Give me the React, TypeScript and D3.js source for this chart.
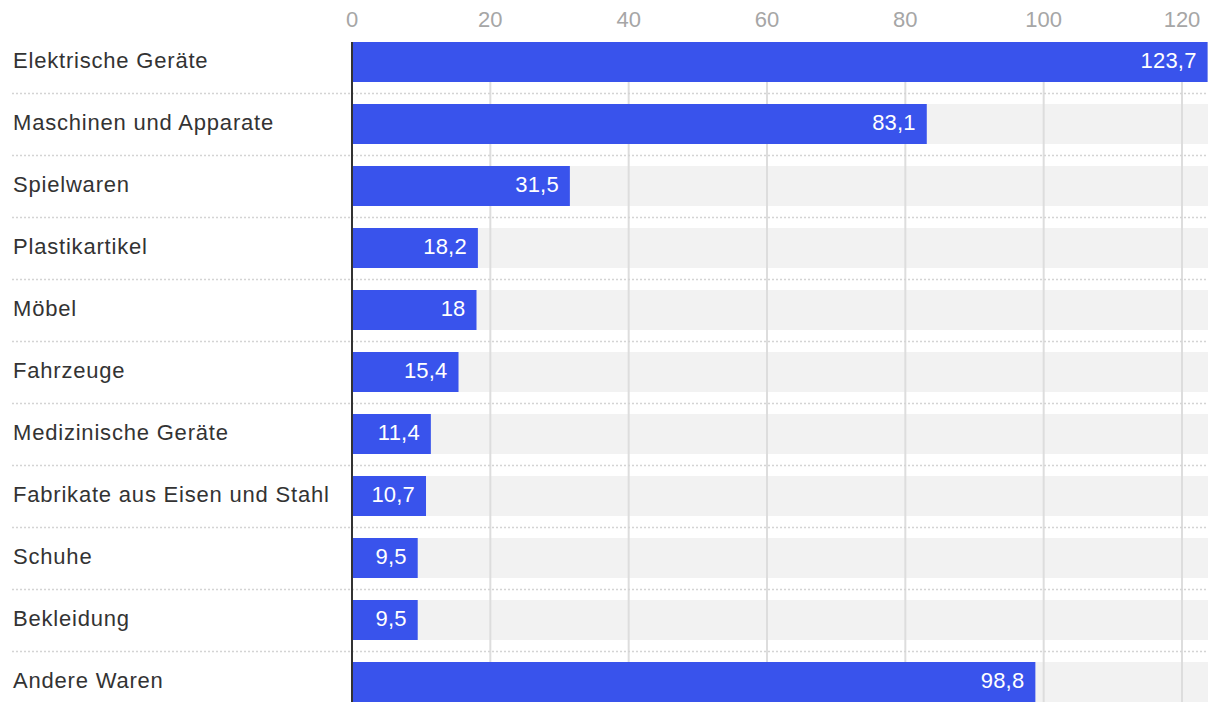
import React, { useRef, useEffect } from 'react';
import * as d3 from 'd3';

const categories = [
  'Elektrische Geräte',
  'Maschinen und Apparate',
  'Spielwaren',
  'Plastikartikel',
  'Möbel',
  'Fahrzeuge',
  'Medizinische Geräte',
  'Fabrikate aus Eisen und Stahl',
  'Schuhe',
  'Bekleidung',
  'Andere Waren',
];
const values = [123.7, 83.1, 31.5, 18.2, 18, 15.4, 11.4, 10.7, 9.5, 9.5, 98.8];
const ticks = [0, 20, 40, 60, 80, 100, 120];

const App = () => {
  const svgRef = useRef<SVGSVGElement>(null);

  useEffect(() => {
    if (!svgRef.current) return;
    const width = 1220;
    const height = 712;
    const font = '"Liberation Sans", Arial, Helvetica, sans-serif';
    const left = 352;
    const right = 1208;

    const svg = d3.select(svgRef.current)
      .attr('width', width)
      .attr('height', height)
      .attr('viewBox', `0 0 ${width} ${height}`);
    svg.selectAll('*').remove();

    const x = d3.scaleLinear().domain([0, 120]).range([left, 1182]);
    const y = d3.scaleBand<string>()
      .domain(categories)
      .range([31, 31 + 62 * categories.length])
      .paddingInner(22 / 62)
      .paddingOuter(11 / 62);
    const bw = y.bandwidth();
    const top = y(categories[0])!;
    const bottom = y(categories[categories.length - 1])! + bw;

    // background bands
    svg.append('g').selectAll('rect')
      .data(categories)
      .join('rect')
      .attr('x', left)
      .attr('y', d => y(d)!)
      .attr('width', right - left)
      .attr('height', bw)
      .attr('fill', '#f2f2f2');

    // grid
    svg.append('g').selectAll('line')
      .data(ticks.slice(1))
      .join('line')
      .attr('x1', d => x(d)).attr('x2', d => x(d))
      .attr('y1', top).attr('y2', bottom)
      .attr('stroke', '#dddddd')
      .attr('stroke-width', 2);

    // tick labels
    svg.append('g').selectAll('text')
      .data(ticks)
      .join('text')
      .attr('x', d => x(d))
      .attr('y', 27)
      .attr('text-anchor', 'middle')
      .attr('fill', '#a6a6a6')
      .attr('font-family', font)
      .attr('font-size', '22px')
      .text(d => d);

    // separators
    svg.append('g').selectAll('line')
      .data(categories.slice(0, -1))
      .join('line')
      .attr('x1', 12).attr('x2', right)
      .attr('y1', d => y(d)! + bw + 11.5)
      .attr('y2', d => y(d)! + bw + 11.5)
      .attr('stroke', '#d4d4d4')
      .attr('stroke-width', 1.5)
      .attr('stroke-dasharray', '2,2');

    // bars
    svg.append('g').selectAll('rect')
      .data(values)
      .join('rect')
      .attr('x', left)
      .attr('y', (_, i) => y(categories[i])!)
      .attr('width', d => x(d) - left)
      .attr('height', bw)
      .attr('fill', '#3953ec');

    // value labels
    svg.append('g').selectAll('text')
      .data(values)
      .join('text')
      .attr('x', d => x(d) - 11)
      .attr('y', (_, i) => y(categories[i])! + bw / 2)
      .attr('dy', '0.28em')
      .attr('text-anchor', 'end')
      .attr('fill', '#ffffff')
      .attr('font-family', font)
      .attr('font-size', '22px')
      .attr('letter-spacing', '0.2px')
      .text(d => String(d).replace('.', ','));

    // category labels
    svg.append('g').selectAll('text')
      .data(categories)
      .join('text')
      .attr('x', 13)
      .attr('y', d => y(d)! + bw / 2)
      .attr('dy', '0.26em')
      .attr('fill', '#333333')
      .attr('font-family', font)
      .attr('font-size', '22px')
      .attr('letter-spacing', '0.8px')
      .text(d => d);

    // axis line
    svg.append('line')
      .attr('x1', left).attr('x2', left)
      .attr('y1', top).attr('y2', bottom)
      .attr('stroke', '#333333')
      .attr('stroke-width', 2);
  }, []);

  return <svg ref={svgRef} style={{ position: 'absolute', left: 0, top: 0 }} />;
};

export default App;
